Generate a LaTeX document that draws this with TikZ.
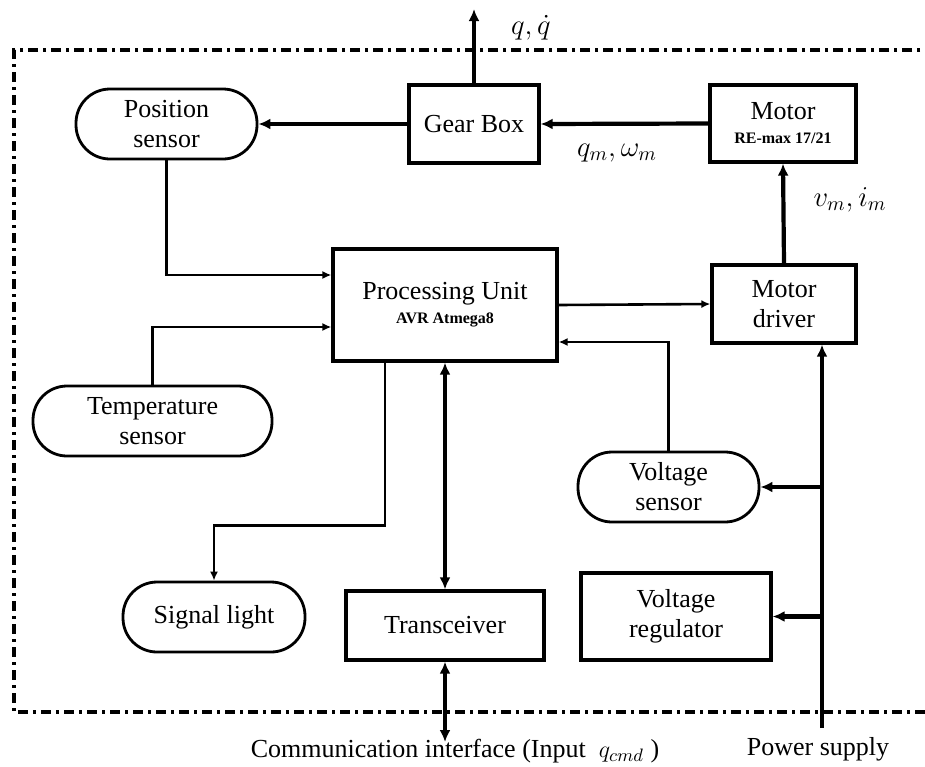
\documentclass[tikz,border=0pt]{standalone}
\usepackage{amsmath}
\usepackage{fontspec}
\setmainfont{Liberation Serif}
\usepackage{tikz}
\usetikzlibrary{arrows.meta}
\tikzset{
  block/.style={draw, line width=1.6pt, align=center, font=\fontsize{13}{15}\selectfont},
  sensor/.style={block, line width=1.4pt, rounded corners=17pt},
  linkA/.style={line width=1.3pt, -{Latex[length=4.5pt,width=4pt]}},
  linkB/.style={line width=2.1pt, -{Latex[length=6pt,width=5.5pt]}},
  linkBB/.style={line width=2.1pt, {Latex[length=6pt,width=5.5pt]}-{Latex[length=6pt,width=5.5pt]}},
  frame/.style={line width=1.6pt, dash pattern=on 5pt off 2.5pt on 1.5pt off 2.5pt},
  lab/.style={font=\fontsize{13}{15}\selectfont},
  labm/.style={font=\fontsize{14}{16}\selectfont}
}

\begin{document}
\begin{tikzpicture}[x=0.5pt, y=-0.5pt]
  \useasboundingbox (0,0) rectangle (925,766);

  % dash-dot frame, open on the right
  \draw[frame] (935,50) -- (14,50) -- (14,712) -- (935,712);

  % blocks
  \node[block, minimum width=65pt, minimum height=39pt] (gear) at (474,124) {Gear Box};
  \node[block, minimum width=73pt, minimum height=38.5pt] (motor) at (783,123.5)
    {Motor\\[-3pt]\textbf{\fontsize{8}{10}\selectfont RE-max 17/21}};
  \node[block, minimum width=112pt, minimum height=56pt] (pu) at (445,305)
    {Processing Unit\\[-3pt]\textbf{\fontsize{8}{10}\selectfont AVR Atmega8}};
  \node[block, minimum width=72pt, minimum height=39pt] (drv) at (784,304) {Motor\\driver};
  \node[block, minimum width=99pt, minimum height=34.5pt] (trx) at (445,625.5) {Transceiver};
  \node[block, minimum width=95pt, minimum height=43.5pt] (reg) at (676,616.5) {Voltage\\regulator};

  % sensors and light
  \node[sensor, minimum width=90.5pt, minimum height=35pt] (pos) at (166.5,124) {Position\\sensor};
  \node[sensor, minimum width=119.5pt, minimum height=35pt] (temp) at (152.5,421) {Temperature\\sensor};
  \node[sensor, minimum width=90.5pt, minimum height=35pt] (vsen) at (668.5,487) {Voltage\\sensor};
  \node[sensor, minimum width=91pt, minimum height=35pt] (sig) at (214,617) {Signal light};

  % free ends
  \coordinate (qout) at (474,9);
  \coordinate (comm) at (445,742);
  \coordinate (pwr) at (822,728);

  % drive chain
  \draw[linkB] (gear.north) -- (qout);
  \node[labm, anchor=west] at (504,28) {$q,\dot{q}$};
  \draw[linkB] (motor.west) -- (gear.east);
  \node[labm] at (617,153) {$q_m,\omega_m$};
  \draw[linkB] (gear.west) -- (pos.east);
  \draw[linkB] (drv.north) -- (motor.south);
  \node[labm] at (850,200) {$v_m,i_m$};

  % signals around the processing unit
  \draw[linkA] (pos.south) |- ([yshift=15pt]pu.west);
  \draw[linkA] (temp.north) |- ([yshift=-11pt]pu.west);
  \draw[linkA] (pu.east) -- (drv.west);
  \draw[linkA] (vsen.north) |- ([yshift=-18.5pt]pu.east);
  \draw[linkA] ([xshift=-30pt]pu.south) |- ([yshift=27.5pt]sig.north) -- (sig.north);
  \draw[linkBB] (pu.south) -- (trx.north);
  \draw[linkBB] (trx.south) -- (comm);

  % power supply
  \draw[linkB] (pwr) -- (pwr |- drv.south);
  \draw[linkB] (pwr |- vsen.east) -- (vsen.east);
  \draw[linkB] (pwr |- reg.east) -- (reg.east);

  \node[lab] at (455,751) {Communication interface (Input \ $q_{cmd}$ )};
  \node[lab] at (818,749) {Power supply};
\end{tikzpicture}
\end{document}
